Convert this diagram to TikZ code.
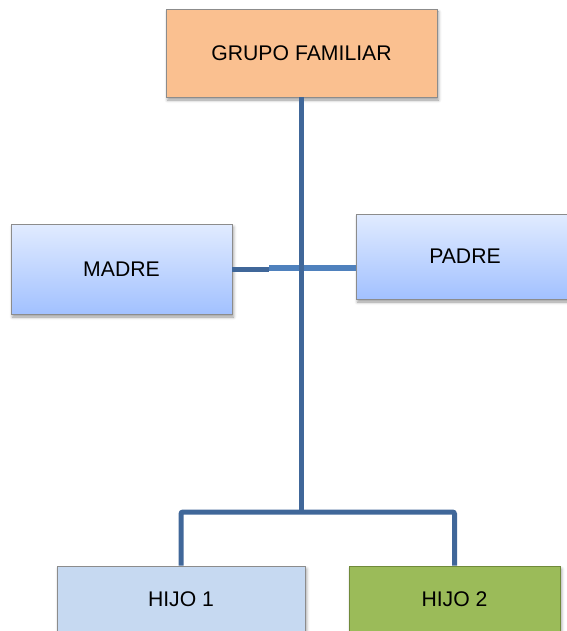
\documentclass[tikz,border=0pt]{standalone}
\usepackage{fontspec}
\setmainfont{Liberation Sans}
\usetikzlibrary{shadows.blur}

\begin{document}
\begin{tikzpicture}[x=1pt,y=-1pt,
  caja/.style={draw=bordegris, line width=0.8pt, inner sep=0pt, font=\fontsize{21.2}{25}\selectfont,
    blur shadow={shadow xshift=1.5pt, shadow yshift=-3pt, shadow blur radius=3pt, shadow opacity=40}},
  azul/.style={caja, top color=azularriba, bottom color=azulabajo},
  rama/.style={draw=ramaazul, line width=5pt}]
\useasboundingbox (0,0) rectangle (566,631);

\definecolor{bordegris}{RGB}{140,140,140}
\definecolor{naranja}{RGB}{250,192,144}
\definecolor{azularriba}{RGB}{225,235,255}
\definecolor{azulabajo}{RGB}{162,193,255}
\definecolor{celeste}{RGB}{198,217,241}
\definecolor{verde}{RGB}{155,187,89}
\definecolor{bordeverde}{RGB}{112,138,58}
\definecolor{ramaazul}{RGB}{64,103,153}
\definecolor{lineaclara}{RGB}{79,129,189}

\node[caja, fill=naranja, minimum width=271pt, minimum height=88pt] (grupo) at (301.5,53) {GRUPO FAMILIAR};
\node[azul, minimum width=221pt, minimum height=90pt] (madre) at (121.5,269) {MADRE};
\node[azul, minimum width=218pt, minimum height=85pt] (padre) at (465,256.5) {PADRE};
\node[caja, fill=celeste, minimum width=248pt, minimum height=66pt] (hijouno) at (181,599) {HIJO 1};
\node[caja, fill=verde, draw=bordeverde, minimum width=211pt, minimum height=66pt] (hijodos) at (454.5,599) {HIJO 2};

\coordinate (union) at (269,269.5);
\coordinate (uniondos) at (269,268);
\coordinate (reparto) at (301,512);

\draw[rama] (madre.east |- union) -- (union);
\draw[draw=lineaclara, line width=6pt] (uniondos) -- (uniondos -| padre.west);
\draw[rama] (grupo.south -| reparto) -- (reparto);
\draw[rama, rounded corners=2pt] (hijouno.north) |- (reparto) -| (hijodos.north);
\end{tikzpicture}
\end{document}
